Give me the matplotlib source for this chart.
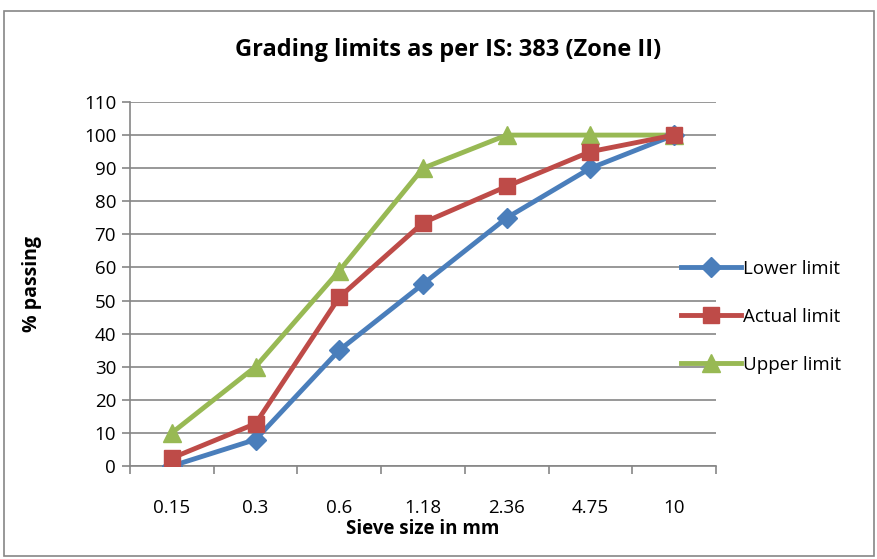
import numpy as np
import matplotlib
matplotlib.use('Agg')
import matplotlib.pyplot as plt
from matplotlib.patches import Rectangle

plt.rcParams['font.family'] = ['Open Sans', 'DejaVu Sans']

sieve = ['0.15', '0.3', '0.6', '1.18', '2.36', '4.75', '10']
lower = [0, 8, 35, 55, 75, 90, 100]
actual = [2.4, 12.8, 51, 73.5, 84.5, 95, 100]
upper = [10, 30, 59, 90, 100, 100, 100]

grid_col = '#868686'

fig = plt.figure(figsize=(8.77, 5.59), dpi=100)
ax = fig.add_axes([130/877, 1 - 466/559, 586/877, 364/559])

x = np.arange(len(sieve))
ax.plot(x, lower, color='#4a7ebb', lw=3.5, marker='D', ms=10, label='Lower limit', zorder=3)
ax.plot(x, actual, color='#be4b48', lw=3.5, marker='s', ms=12, label='Actual limit', zorder=4)
ax.plot(x, upper, color='#98b954', lw=3.5, marker='^', ms=13, label='Upper limit', zorder=2)

ax.set_xlim(-0.5, len(sieve) - 0.5)
ax.set_ylim(0, 110)
ax.set_yticks(np.arange(0, 111, 10))
ax.yaxis.grid(True, color=grid_col, lw=1.2)
ax.set_axisbelow(True)

ax.set_xticks(x)
ax.set_xticklabels(sieve, fontsize=13.5)
ax.set_xticks(np.arange(-0.5, len(sieve), 1), minor=True)
ax.tick_params(axis='x', which='major', length=0, pad=24)
ax.tick_params(axis='x', which='minor', length=6, color=grid_col, width=1.2)
ax.tick_params(axis='y', length=6, color=grid_col, width=1.2, labelsize=13.5, pad=4)

for s in ['top', 'right']:
    ax.spines[s].set_visible(False)
for s in ['left', 'bottom']:
    ax.spines[s].set_color(grid_col)
    ax.spines[s].set_linewidth(1.2)

ax.set_xlabel('Sieve size in mm', fontsize=13.5, fontweight='bold', labelpad=1)
ax.set_ylabel('% passing', fontsize=14, fontweight='bold', labelpad=30)

fig.text(448/877, 1 - 50/559, 'Grading limits as per IS: 383 (Zone II)',
         fontsize=17, fontweight='bold', ha='center', va='center')

ax.legend(loc='center left', bbox_to_anchor=(543/586, 0.41), frameon=False,
          fontsize=13.5, handlelength=3.2, handletextpad=0.15, labelspacing=1.6,
          borderaxespad=0)

fig.patches.append(Rectangle((4/877, 1 - 556/559), 870/877, 545/559, transform=fig.transFigure,
                             fill=False, edgecolor='#868686', lw=1.2))

fig.savefig('out.png', dpi=100)
